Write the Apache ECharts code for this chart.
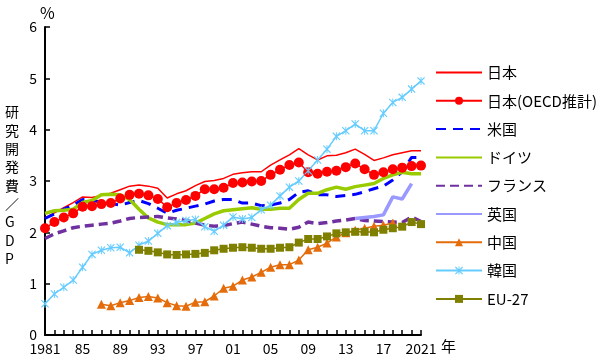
<!DOCTYPE html>
<html><head><meta charset="utf-8">
<script src="https://cdn.jsdelivr.net/npm/echarts@6/dist/echarts.min.js"></script>
<style>html,body{margin:0;padding:0;background:#fff}#c{width:600px;height:362px}</style>
</head><body><div id="c"></div>
<script>
var years = [];
for (var y = 1981; y <= 2021; y++) years.push(String(y));
var yTicks = [0,1,2,3,4,5,6];
var japan = [2.28,2.38,2.48,2.58,2.69,2.68,2.72,2.76,2.83,2.90,2.92,2.90,2.86,2.67,2.75,2.81,2.91,2.99,3.01,3.05,3.13,3.16,3.18,3.18,3.31,3.41,3.51,3.63,3.51,3.41,3.49,3.50,3.55,3.62,3.52,3.40,3.45,3.51,3.55,3.59,3.59];
var japanOECD = [2.08,2.20,2.29,2.37,2.50,2.51,2.55,2.57,2.66,2.73,2.75,2.72,2.65,2.49,2.57,2.63,2.71,2.84,2.84,2.87,2.96,2.97,2.99,3.00,3.12,3.22,3.31,3.36,3.17,3.14,3.18,3.20,3.27,3.34,3.23,3.12,3.17,3.23,3.26,3.29,3.30];
var usa = [2.27,2.36,2.45,2.53,2.64,2.62,2.59,2.56,2.53,2.58,2.62,2.56,2.47,2.37,2.43,2.47,2.51,2.55,2.61,2.64,2.64,2.57,2.57,2.52,2.53,2.57,2.64,2.78,2.81,2.73,2.73,2.70,2.72,2.74,2.79,2.85,2.90,3.02,3.18,3.46,3.46];
var germany = [2.37,2.42,2.43,2.45,2.58,2.62,2.73,2.74,2.73,2.64,2.45,2.28,2.20,2.15,2.15,2.15,2.18,2.27,2.36,2.42,2.44,2.46,2.48,2.45,2.45,2.47,2.47,2.64,2.76,2.76,2.83,2.88,2.84,2.89,2.92,2.95,3.05,3.12,3.17,3.14,3.14];
var france = [1.88,1.97,2.03,2.09,2.12,2.14,2.16,2.18,2.22,2.27,2.29,2.30,2.31,2.28,2.26,2.23,2.18,2.14,2.12,2.13,2.17,2.20,2.16,2.12,2.09,2.08,2.06,2.10,2.20,2.17,2.19,2.22,2.24,2.27,2.23,2.22,2.21,2.20,2.19,2.30,2.21];
var uk = [null,null,null,null,null,null,null,null,null,null,null,null,null,null,null,null,null,null,null,null,null,null,null,null,null,null,null,null,null,null,null,null,null,2.27,2.29,2.31,2.34,2.69,2.65,2.95,null];
var china = [null,null,null,null,null,null,0.60,0.57,0.63,0.67,0.73,0.75,0.72,0.63,0.57,0.56,0.64,0.65,0.76,0.91,0.95,1.07,1.13,1.22,1.32,1.37,1.37,1.46,1.66,1.71,1.79,1.91,1.99,2.04,2.08,2.12,2.14,2.18,null,null,null];
var korea = [0.61,0.80,0.93,1.07,1.32,1.57,1.65,1.70,1.71,1.60,1.75,1.83,1.98,2.13,2.19,2.23,2.25,2.11,2.02,2.14,2.30,2.26,2.29,2.44,2.53,2.71,2.88,3.00,3.20,3.41,3.62,3.87,3.98,4.11,3.98,3.98,4.32,4.53,4.63,4.79,4.95];
var eu27 = [null,null,null,null,null,null,null,null,null,null,1.66,1.64,1.61,1.57,1.56,1.57,1.58,1.60,1.65,1.68,1.70,1.71,1.70,1.68,1.68,1.70,1.71,1.80,1.87,1.87,1.92,1.98,2.00,2.01,2.01,2.00,2.05,2.08,2.11,2.20,2.16];
var names = ['日本','日本(OECD推計)','米国','ドイツ','フランス','英国','中国','韓国','EU-27'];
var hasMarker = [false,true,false,false,false,false,true,true,true];

var FONT = '"Noto Sans CJK JP", "Noto Sans", sans-serif';
var star = 'path://M0,1 L1,0 L10,9 L9,10 Z M9,0 L10,1 L1,10 L0,9 Z M4.4,0 L5.6,0 L5.6,10 L4.4,10 Z';

function line(name, data, color, width, type, symbol, size) {
  return {
    name: name, type: 'line', data: data, connectNulls: false,
    symbol: symbol || 'none', symbolSize: size || 0, showSymbol: !!symbol, showAllSymbol: true,
    lineStyle: {color: color, width: width, type: type || 'solid'},
    itemStyle: {color: color, borderWidth: 0},
    emphasis: {disabled: true}
  };
}

var legendData = names.map(function (n, i) {
  return hasMarker[i] ? {name: n} : {name: n, itemStyle: {opacity: 0}};
});

var chart = echarts.init(document.getElementById('c'), null, {renderer: 'canvas'});
chart.setOption({
  animation: false,
  backgroundColor: '#fff',
  textStyle: {fontFamily: FONT},
  grid: {left: 45, right: 179, top: 27, bottom: 27, containLabel: false},
  legend: {
    orient: 'vertical', left: 435, top: 65, padding: 0,
    itemWidth: 46, itemHeight: 10, itemGap: 13.3,
    textStyle: {fontSize: 15, color: '#000', fontFamily: FONT},
    data: legendData
  },
  xAxis: {
    type: 'category', data: years, boundaryGap: false,
    axisLine: {lineStyle: {color: '#000', width: 2}},
    axisTick: {show: true, inside: true, length: 5, interval: 0, lineStyle: {color: '#000', width: 1.5}},
    axisLabel: {
      color: '#000', fontSize: 14, margin: 7, fontFamily: FONT,
      interval: function (i) { return i % 4 === 0; },
      formatter: function (v) { return (v === '1981' || v === '2021') ? v : v.slice(2); }
    },
    splitLine: {show: false}
  },
  yAxis: {
    type: 'value', min: yTicks[0], max: yTicks[yTicks.length - 1], interval: 1,
    axisLine: {show: true, lineStyle: {color: '#000', width: 2}},
    axisTick: {show: true, inside: true, length: 5, lineStyle: {color: '#000', width: 1.5}},
    axisLabel: {color: '#000', fontSize: 14, margin: 8, fontFamily: FONT},
    splitLine: {show: false}
  },
  graphic: [
    {type: 'text', left: 40, top: 5, style: {text: '%', fontSize: 16, fill: '#000', fontFamily: FONT}},
    {type: 'text', left: 441, top: 339, style: {text: '年', fontSize: 15, fill: '#000', fontFamily: FONT}},
    {type: 'text', left: 5, top: 103, style: {text: '研\n究\n開\n発\n費\n／\nG\nD\nP', fontSize: 14, lineHeight: 18.3, align: 'center', fill: '#000', fontFamily: FONT}}
  ],
  series: [
    line(names[0], japan, '#FF0000', 1.5),
    line(names[1], japanOECD, '#FF0000', 1.5, 'solid', 'circle', 10),
    line(names[2], usa, '#0000FF', 3, [10, 7]),
    line(names[3], germany, '#99CC00', 3.5),
    line(names[4], france, '#7030A0', 3.5, [9, 5]),
    line(names[5], uk, '#9999FF', 3.5),
    line(names[6], china, '#E46C0A', 1.5, 'solid', 'triangle', 9),
    line(names[7], korea, '#66CCFF', 1.5, 'solid', star, 8),
    line(names[8], eu27, '#808000', 1.5, 'solid', 'rect', 8)
  ]
});
</script></body></html>
